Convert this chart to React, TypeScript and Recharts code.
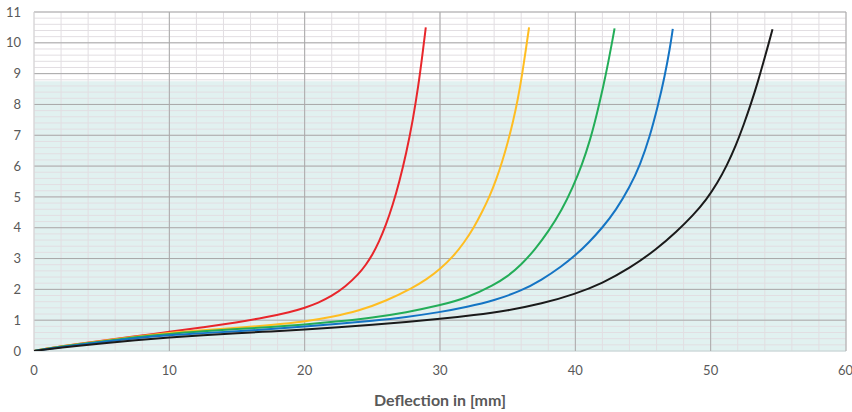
import React from 'react';
import { LineChart, Line, XAxis, YAxis, ReferenceArea, ReferenceLine } from 'recharts';

const redX = [0, 1, 2, 3.5, 5, 7.5, 10, 12.5, 15, 17, 19, 20, 21, 22, 23, 24, 24.5, 25, 25.5, 26, 26.5, 27, 27.5, 28, 28.4, 28.7, 28.95];
const redY = [0, 0.08, 0.15, 0.24, 0.33, 0.48, 0.62, 0.77, 0.93, 1.08, 1.27, 1.4, 1.56, 1.78, 2.08, 2.5, 2.78, 3.12, 3.55, 4.08, 4.72, 5.5, 6.4, 7.5, 8.6, 9.6, 10.5];

const yellowX = [0, 1, 2, 3.5, 5, 7.5, 10, 12.5, 15, 17.5, 20, 22, 24, 26, 28, 29, 30, 31, 31.75, 32.5, 33.1, 33.65, 34.15, 34.6, 35.0, 35.4, 35.75, 36.1, 36.35, 36.58];
const yellowY = [0, 0.08, 0.15, 0.24, 0.32, 0.47, 0.59, 0.67, 0.75, 0.84, 0.95, 1.1, 1.3, 1.62, 2.05, 2.32, 2.65, 3.08, 3.5, 4.0, 4.5, 5.0, 5.55, 6.15, 6.75, 7.45, 8.15, 9.05, 9.8, 10.5];

const greenX = [0, 1, 2, 3.5, 5, 7.5, 10, 12.5, 15, 17.5, 20, 22.5, 25, 27.5, 30, 32, 34, 35, 36, 37, 38, 39, 39.8, 40.5, 41.1, 41.6, 42.05, 42.45, 42.75, 42.9];
const greenY = [0, 0.08, 0.14, 0.23, 0.31, 0.45, 0.56, 0.64, 0.71, 0.78, 0.86, 0.96, 1.08, 1.25, 1.48, 1.72, 2.15, 2.42, 2.8, 3.28, 3.87, 4.57, 5.3, 6.05, 6.85, 7.7, 8.55, 9.4, 10.1, 10.47];

const blueX = [0, 1, 2, 3.5, 5, 7.5, 10, 12.5, 15, 17.5, 20, 22.5, 25, 27.5, 30, 32, 34, 36, 37.5, 39, 40, 41, 42, 43, 44, 44.8, 45.5, 46.1, 46.6, 47.0, 47.2];
const blueY = [0, 0.07, 0.13, 0.21, 0.29, 0.42, 0.52, 0.58, 0.64, 0.71, 0.79, 0.88, 0.98, 1.1, 1.26, 1.43, 1.64, 1.95, 2.3, 2.75, 3.1, 3.52, 4.0, 4.57, 5.3, 6.05, 6.95, 7.95, 8.9, 9.85, 10.45];

const blackX = [0, 1, 2, 3.5, 5, 7.5, 10, 12.5, 15, 17.5, 20, 22.5, 25, 27.5, 30, 32.5, 35, 37.5, 40, 42, 44, 46, 47.5, 48.7, 49.7, 50.5, 51.2, 51.85, 52.45, 53.0, 53.5, 53.95, 54.3, 54.57];
const blackY = [0, 0.06, 0.11, 0.18, 0.24, 0.35, 0.44, 0.51, 0.575, 0.635, 0.7, 0.77, 0.85, 0.94, 1.04, 1.16, 1.31, 1.53, 1.85, 2.2, 2.68, 3.3, 3.88, 4.4, 4.92, 5.45, 6.02, 6.65, 7.35, 8.05, 8.75, 9.45, 10.0, 10.44];

const xTicks = [0, 10, 20, 30, 40, 50, 60];
const yTicks = [0, 1, 2, 3, 4, 5, 6, 7, 8, 9, 10, 11];
const xMinor = Array.from({ length: 31 }, (_, i) => i * 2);
const yMinor = Array.from({ length: 56 }, (_, i) => Math.round(i * 2) / 10);
const bandTop = 8.75;
const xLabel = 'Deflection in [mm]';

const toPts = (xs: number[], ys: number[]) => xs.map((x, i) => ({ x, y: ys[i] }));

const series = [
  { name: 'red', color: '#e8262b', data: toPts(redX, redY) },
  { name: 'yellow', color: '#ffbd21', data: toPts(yellowX, yellowY) },
  { name: 'green', color: '#23ad58', data: toPts(greenX, greenY) },
  { name: 'blue', color: '#1474c4', data: toPts(blueX, blueY) },
  { name: 'black', color: '#1a1a1a', data: toPts(blackX, blackY) },
];

const FONT = 'Lato, "Open Sans", sans-serif';

export default function App() {
  return (
    <div style={{ position: 'absolute', left: 0, top: 0 }}>
      <LineChart width={852} height={412} margin={{ top: 12, right: 6, left: 0, bottom: 0 }}>
        <XAxis
          type="number"
          dataKey="x"
          domain={[0, 60]}
          ticks={xTicks}
          allowDataOverflow
          axisLine={false}
          tickLine={false}
          tickSize={0}
          tickMargin={15}
          height={61}
          tick={{ fill: '#595959', fontSize: 13, fontFamily: FONT }}
          label={{ value: xLabel, position: 'insideBottom', offset: 6, fill: '#595959', fontSize: 16, fontWeight: 700, fontFamily: FONT }}
        />
        <YAxis
          type="number"
          dataKey="y"
          domain={[0, 11]}
          ticks={yTicks}
          allowDataOverflow
          axisLine={false}
          tickLine={false}
          tickSize={0}
          tickMargin={13}
          width={34}
          tick={{ fill: '#595959', fontSize: 13, fontFamily: FONT }}
        />
        <ReferenceArea x1={0} x2={60} y1={0} y2={bandTop} fill="#c3e4e1" fillOpacity={0.5} stroke="none" />
        {yMinor.map((v) => (
          <ReferenceLine key={'ym' + v} y={v} stroke="#e2dee2" strokeWidth={1} />
        ))}
        {xMinor.map((v) => (
          <ReferenceLine key={'xm' + v} x={v} stroke="#e2dee2" strokeWidth={1} />
        ))}
        {yTicks.map((v) => (
          <ReferenceLine key={'yM' + v} y={v} stroke={v === 0 ? '#c5d8d7' : '#a9a9a9'} strokeWidth={1} />
        ))}
        {xTicks.map((v) => (
          <ReferenceLine key={'xM' + v} x={v} stroke={v === 0 ? '#d4d4d4' : '#a9a9a9'} strokeWidth={1} />
        ))}
        {series.map((s) => (
          <Line
            key={s.name}
            data={s.data}
            dataKey="y"
            type="basis"
            stroke={s.color}
            strokeWidth={2}
            dot={false}
            activeDot={false}
            isAnimationActive={false}
          />
        ))}
      </LineChart>
    </div>
  );
}
